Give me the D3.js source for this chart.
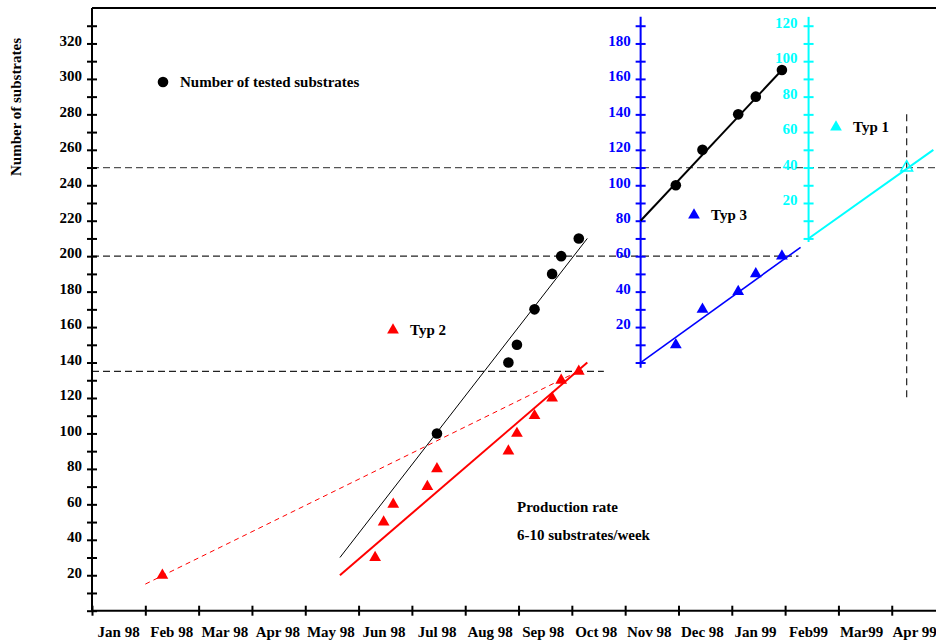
<!DOCTYPE html>
<html>
<head>
<meta charset="utf-8">
<script src="https://cdn.jsdelivr.net/npm/d3@7"></script>
<style>
body{margin:0;background:#fff}
svg text{font-family:"Liberation Serif","Times New Roman",serif;font-weight:bold}
</style>
</head>
<body>
<div id="chart"></div>
<script>
// x values are months counted from the start of Jan 98
const monthLabels = ['Jan 98','Feb 98','Mar 98','Apr 98','May 98','Jun 98','Jul 98','Aug 98',
                     'Sep 98','Oct 98','Nov 98','Dec 98','Jan 99','Feb99','Mar99','Apr 99']
const mainTicks = [20,40,60,80,100,120,140,160,180,200,220,240,260,280,300,320]
const blueTicks = [20,40,60,80,100,120,140,160,180]
const cyanTicks = [20,40,60,80,100,120]

// number of tested substrates (main axis)
const testedMonth = [6.47, 7.81, 7.97, 8.30, 8.63, 8.80, 9.13]
const testedCount = [100, 140, 150, 170, 190, 200, 210]
// number of tested substrates (blue axis)
const testedBlueMonth = [10.95, 11.45, 12.12, 12.45, 12.94]
const testedBlueCount = [100, 120, 140, 150, 165]
// Typ 2 (main axis)
const typ2Month = [1.32, 5.31, 5.47, 5.65, 6.29, 6.47, 7.81, 7.97, 8.30, 8.63, 8.80, 9.13]
const typ2Count = [20, 30, 50, 60, 70, 80, 90, 100, 110, 120, 130, 135]
// Typ 3 (blue axis)
const typ3Month = [10.95, 11.45, 12.12, 12.45, 12.94]
const typ3Count = [10, 30, 40, 50, 60]
// Typ 1 (cyan axis)
const typ1Month = [15.28]
const typ1Count = [40]

// fitted lines, [month, value]
const testedFit = [[4.65, 30], [9.29, 210]]
const testedBlueFit = [[10.29, 80], [12.94, 165]]
const typ2Fit = [[4.65, 20], [9.29, 140]]
const typ2Dashed = [[1.0, 15], [9.05, 134]]
const typ3Fit = [[10.29, 0], [13.29, 65]]
const typ1Fit = [[13.44, 0], [15.78, 50]]

// reference levels
const refLevels = [250, 200, 135]
const refEnds = [15.83, 13.25, 9.6]
const refMonth = 15.28
const refRange = [120, 280]

const blueAxisMonth = 10.29
const cyanAxisMonth = 13.44
const blueOffset = 140
const cyanOffset = 210

const width = 936
const height = 641
const blue = '#0000ff'
const cyan = '#00ffff'

const x = d3.scaleLinear().domain([0, 15.83]).range([92, 936])
const y = d3.scaleLinear().domain([0, 340]).range([610.7, 8])
const yBlue = d3.scaleLinear().domain([-blueOffset, 340 - blueOffset]).range(y.range())
const yCyan = d3.scaleLinear().domain([-cyanOffset, 340 - cyanOffset]).range(y.range())

const svg = d3.select('#chart')
            .append('svg')
            .attr('width', width)
            .attr('height', height)

const line = (ys) => d3.line().x(d => x(d[0])).y(d => ys(d[1]))

// dashed reference lines
svg.selectAll('line.ref')
   .data(refLevels)
   .join('line')
     .attr('class','ref')
     .attr('x1', x(0))
     .attr('x2', (d,i) => x(refEnds[i]))
     .attr('y1', d => y(d))
     .attr('y2', d => y(d))
     .attr('stroke', (d,i) => i === 0 ? '#555' : '#222')
     .attr('stroke-width', 1.2)
     .attr('stroke-dasharray', '7,4')

svg.append('line')
   .attr('x1', x(refMonth)).attr('x2', x(refMonth))
   .attr('y1', y(refRange[1])).attr('y2', y(refRange[0]))
   .attr('stroke', '#222')
   .attr('stroke-width', 1.2)
   .attr('stroke-dasharray', '7,5')

function styleAxis (g, color, labelX) {
    g.attr('font-family', null).attr('font-size', null)
    g.select('.domain').remove()
    g.selectAll('.tick line')
      .attr('x1', -5).attr('x2', 5)
      .attr('stroke', color).attr('stroke-width', 2)
    g.selectAll('.tick text')
      .attr('x', labelX)
      .attr('y', -3)
      .attr('fill', color)
      .style('font-size', '15px')
}

// main y axis
svg.append('g')
   .attr('transform', `translate(${x(0)},0)`)
   .call(d3.axisLeft(y).tickValues(d3.range(0, 331, 10))
          .tickFormat(d => mainTicks.includes(d) ? d : '').tickSizeOuter(0))
   .call(g => styleAxis(g, '#000', -10))

svg.append('line')
   .attr('x1', x(0)).attr('x2', x(0))
   .attr('y1', y(0)).attr('y2', y(340))
   .attr('stroke', '#000').attr('stroke-width', 2)

svg.append('line')
   .attr('x1', x(0)).attr('x2', width)
   .attr('y1', y(340)).attr('y2', y(340))
   .attr('stroke', '#000').attr('stroke-width', 2)

// x axis
svg.append('g')
   .attr('transform', `translate(0,${y(0)})`)
   .call(d3.axisBottom(x).tickValues(d3.range(0, 16)).tickFormat('').tickSizeOuter(0))
   .call(g => {
       g.select('.domain').remove()
       g.selectAll('.tick line').attr('y1', -5).attr('y2', 5).attr('stroke', '#000').attr('stroke-width', 2)
   })

svg.append('line')
   .attr('x1', x(0)).attr('x2', width)
   .attr('y1', y(0)).attr('y2', y(0))
   .attr('stroke', '#000').attr('stroke-width', 2)

// month labels sit a little left of the interval centres, drifting towards the right
svg.selectAll('text.month')
   .data(monthLabels)
   .join('text')
     .attr('class', 'month')
     .attr('x', (d,i) => x(i + 0.5) - i * 0.25)
     .attr('y', 637)
     .attr('text-anchor', 'middle')
     .style('font-size', '15px')
     .text(d => d)

// blue axis
svg.append('g')
   .attr('transform', `translate(${x(blueAxisMonth)},0)`)
   .call(d3.axisLeft(yBlue).tickValues(d3.range(0, 191, 10))
          .tickFormat(d => blueTicks.includes(d) ? d : '').tickSizeOuter(0))
   .call(g => styleAxis(g, blue, -10))

svg.append('line')
   .attr('x1', x(blueAxisMonth)).attr('x2', x(blueAxisMonth))
   .attr('y1', yBlue(-3)).attr('y2', yBlue(195))
   .attr('stroke', blue).attr('stroke-width', 2)

// cyan axis
svg.append('g')
   .attr('transform', `translate(${x(cyanAxisMonth)},0)`)
   .call(d3.axisLeft(yCyan).tickValues(d3.range(0, 121, 10))
          .tickFormat(d => cyanTicks.includes(d) ? d : '').tickSizeOuter(0))
   .call(g => styleAxis(g, cyan, -11))

svg.append('line')
   .attr('x1', x(cyanAxisMonth)).attr('x2', x(cyanAxisMonth))
   .attr('y1', yCyan(-2)).attr('y2', yCyan(125))
   .attr('stroke', cyan).attr('stroke-width', 2)

// y axis title
svg.append('text')
   .attr('transform', 'translate(21,107) rotate(-90)')
   .attr('text-anchor', 'middle')
   .style('font-size', '15px')
   .text('Number of substrates')

// fitted lines
const fits = [
    {pts: testedFit, ys: y, color: '#000', w: 1},
    {pts: testedBlueFit, ys: yBlue, color: '#000', w: 2},
    {pts: typ2Fit, ys: y, color: 'red', w: 2},
    {pts: typ2Dashed, ys: y, color: 'red', w: 1, dash: '5,4'},
    {pts: typ3Fit, ys: yBlue, color: blue, w: 1.6},
    {pts: typ1Fit, ys: yCyan, color: cyan, w: 2}
]
svg.selectAll('path.fit')
   .data(fits)
   .join('path')
     .attr('class', 'fit')
     .attr('d', d => line(d.ys)(d.pts))
     .attr('fill', 'none')
     .attr('stroke', d => d.color)
     .attr('stroke-width', d => d.w)
     .attr('stroke-dasharray', d => d.dash || null)

const tri = d3.symbol(d3.symbolTriangle, 60)

// markers
svg.selectAll('circle.tested')
   .data(testedMonth.map((m,i) => [m, testedCount[i], y])
         .concat(testedBlueMonth.map((m,i) => [m, testedBlueCount[i], yBlue])))
   .join('circle')
     .attr('class', 'tested')
     .attr('cx', d => x(d[0]))
     .attr('cy', d => d[2](d[1]))
     .attr('r', 5.3)
     .attr('fill', '#000')

svg.selectAll('path.typ2')
   .data(typ2Month.map((m,i) => [m, typ2Count[i]]))
   .join('path')
     .attr('class', 'typ2')
     .attr('d', tri)
     .attr('transform', d => `translate(${x(d[0])},${y(d[1])})`)
     .attr('fill', 'red')

svg.selectAll('path.typ3')
   .data(typ3Month.map((m,i) => [m, typ3Count[i]]))
   .join('path')
     .attr('class', 'typ3')
     .attr('d', tri)
     .attr('transform', d => `translate(${x(d[0])},${yBlue(d[1])})`)
     .attr('fill', blue)

svg.selectAll('path.typ1')
   .data(typ1Month.map((m,i) => [m, typ1Count[i]]))
   .join('path')
     .attr('class', 'typ1')
     .attr('d', tri)
     .attr('transform', d => `translate(${x(d[0])},${yCyan(d[1])})`)
     .attr('fill', 'none')
     .attr('stroke', cyan)
     .attr('stroke-width', 1.5)

// legends and notes
svg.append('circle').attr('cx', 163).attr('cy', 82).attr('r', 5.3).attr('fill', '#000')
svg.append('text').attr('x', 180).attr('y', 87).style('font-size', '15px').text('Number of tested substrates')

const legends = [
    {x: 393, y: 330, color: 'red', label: 'Typ 2'},
    {x: 694, y: 215, color: blue, label: 'Typ 3'},
    {x: 836, y: 127, color: cyan, label: 'Typ 1'}
]
svg.selectAll('path.leg')
   .data(legends)
   .join('path')
     .attr('class', 'leg')
     .attr('d', tri)
     .attr('transform', d => `translate(${d.x},${d.y})`)
     .attr('fill', d => d.color)
svg.selectAll('text.leg')
   .data(legends)
   .join('text')
     .attr('class', 'leg')
     .attr('x', d => d.x + 17)
     .attr('y', d => d.y + 5)
     .style('font-size', '15px')
     .text(d => d.label)

svg.append('text').attr('x', 517).attr('y', 512).style('font-size', '15px').text('Production rate')
svg.append('text').attr('x', 517).attr('y', 540).style('font-size', '15px').text('6-10 substrates/week')
</script>
</body>
</html>
